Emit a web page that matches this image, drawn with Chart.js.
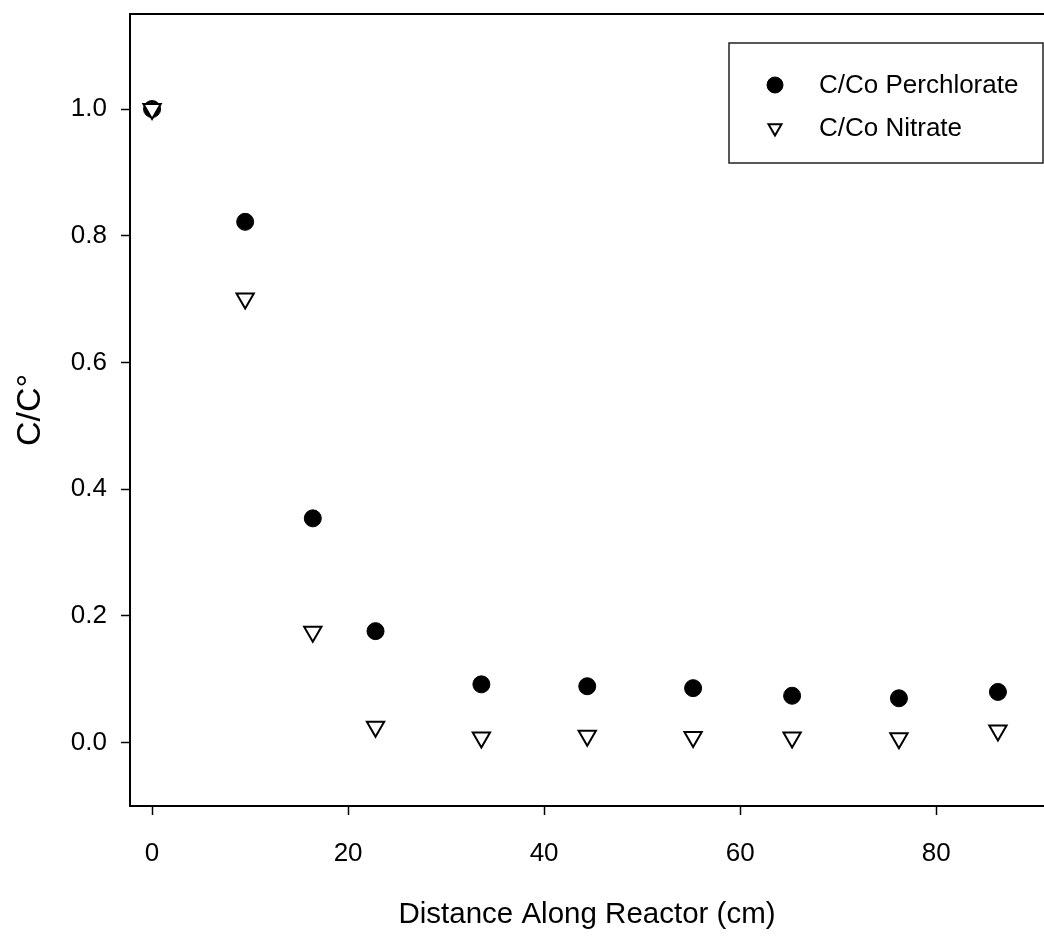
<!DOCTYPE html>
<html>
<head>
<meta charset="utf-8">
<script src="https://cdn.jsdelivr.net/npm/chart.js@4.4.1/dist/chart.umd.min.js"></script>
<style>
  body { margin: 0; background: #fff; overflow: hidden; }
  canvas { display: block; }
</style>
</head>
<body>
<canvas id="chartReactor" width="1044" height="938"></canvas>
<script>
// distance along reactor (cm)
var distance = [0, 9.5, 16.4, 22.8, 33.6, 44.4, 55.2, 65.3, 76.2, 86.3];
var perchlorate = [1.0, 0.822, 0.354, 0.176, 0.092, 0.089, 0.086, 0.074, 0.070, 0.080];
var nitrate = [1.0, 0.701, 0.175, 0.025, 0.008, 0.011, 0.009, 0.008, 0.007, 0.019];
var xTicks = [0, 20, 40, 60, 80];
var yTicks = [0.0, 0.2, 0.4, 0.6, 0.8, 1.0];

var fontFam = "'Liberation Sans', Arial, sans-serif";

function toPoints(xs, ys) {
  return xs.map(function (x, i) { return { x: x, y: ys[i] }; });
}

function noPadding(scale) {
  scale.paddingTop = 0;
  scale.paddingBottom = 0;
  scale.paddingLeft = 0;
  scale.paddingRight = 0;
}

// top frame line + legend box
var framePlugin = {
  id: 'frame',
  afterDraw: function (chart) {
    var ctx = chart.ctx;
    var area = chart.chartArea;
    ctx.save();
    ctx.strokeStyle = '#000';
    ctx.lineWidth = 2;
    ctx.beginPath();
    ctx.moveTo(area.left - 1, area.top);
    ctx.lineTo(area.right, area.top);
    ctx.stroke();

    // legend
    var bx = area.right - 315, by = area.top + 29, bw = 314, bh = 120;
    ctx.lineWidth = 1.5;
    ctx.strokeStyle = '#222';
    ctx.strokeRect(bx, by, bw, bh);
    ctx.font = "26px " + fontFam;
    ctx.fillStyle = '#000';
    ctx.textBaseline = 'middle';
    chart.data.datasets.forEach(function (ds, i) {
      var cy = by + 42 + i * 43;
      var cx = bx + 46;
      ctx.save();
      ctx.fillStyle = ds.pointBackgroundColor;
      ctx.strokeStyle = ds.pointBorderColor;
      ctx.lineWidth = ds.pointBorderWidth;
      var r = ds.pointStyle === 'triangle' ? 7.5 : 8;
      Chart.helpers.drawPoint(ctx, { pointStyle: ds.pointStyle, radius: r, rotation: ds.pointRotation || 0, borderWidth: ds.pointBorderWidth }, cx, cy);
      ctx.restore();
      ctx.fillText(ds.label, bx + 90, cy + 1);
    });
    ctx.restore();
  }
};

var ctx = document.getElementById('chartReactor');
var myChart = new Chart(ctx, {
  type: 'scatter',
  data: {
    datasets: [
      {
        label: 'C/Co Perchlorate',
        data: toPoints(distance, perchlorate),
        pointStyle: 'circle',
        pointRadius: 8.5,
        pointHoverRadius: 8.5,
        pointBackgroundColor: '#000',
        pointBorderColor: '#000',
        pointBorderWidth: 1,
        order: 1
      },
      {
        label: 'C/Co Nitrate',
        data: toPoints(distance, nitrate),
        pointStyle: 'triangle',
        pointRotation: 180,
        pointRadius: 10,
        pointHoverRadius: 10,
        pointBackgroundColor: '#fff',
        pointBorderColor: '#000',
        pointBorderWidth: 2,
        order: 0
      }
    ]
  },
  options: {
    responsive: false,
    animation: false,
    layout: { autoPadding: false, padding: { top: 14, left: 0, right: 0, bottom: 0 } },
    plugins: {
      legend: { display: false },
      tooltip: { enabled: false }
    },
    scales: {
      x: {
        type: 'linear',
        min: -2.25,
        max: 91,
        afterBuildTicks: function (scale) {
          scale.ticks = xTicks.map(function (v) { return { value: v }; });
        },
        afterFit: function (scale) { scale.height = 132; noPadding(scale); },
        border: { color: '#000', width: 2 },
        grid: { drawOnChartArea: false, drawTicks: true, tickLength: 9, tickColor: '#000', tickWidth: 1.5 },
        ticks: {
          color: '#000',
          padding: 23,
          maxRotation: 0,
          font: { family: fontFam, size: 26 },
          callback: function (v) { return v; }
        },
        title: {
          display: true,
          text: 'Distance Along Reactor (cm)',
          color: '#000',
          font: { family: fontFam, size: 29.5 },
          padding: { top: 0, bottom: 5 }
        }
      },
      y: {
        type: 'linear',
        min: -0.1,
        max: 1.15,
        afterBuildTicks: function (scale) {
          scale.ticks = yTicks.map(function (v) { return { value: v }; });
        },
        afterFit: function (scale) { scale.width = 130; noPadding(scale); },
        border: { color: '#000', width: 2 },
        grid: { drawOnChartArea: false, drawTicks: true, tickLength: 9, tickColor: '#000', tickWidth: 1.5 },
        ticks: {
          color: '#000',
          padding: 14,
          font: { family: fontFam, size: 26 },
          callback: function (v) { return v.toFixed(1); }
        },
        title: {
          display: true,
          text: 'C/C°',
          color: '#000',
          font: { family: fontFam, size: 34 },
          padding: { top: 10, bottom: 0 }
        }
      }
    }
  },
  plugins: [framePlugin]
});
</script>
</body>
</html>
